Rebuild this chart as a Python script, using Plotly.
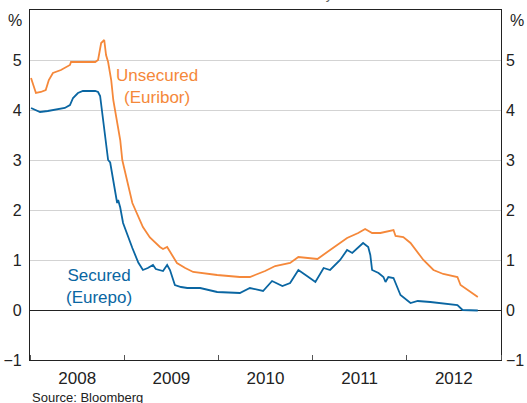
import plotly.graph_objects as go

# ---- data ----
euribor_dates = ["2008-01-05","2008-01-20","2008-01-24","2008-02-12","2008-03-02","2008-03-14","2008-03-30",
    "2008-04-30","2008-06-04","2008-06-08","2008-09-10","2008-09-21","2008-10-03","2008-10-15","2008-10-22",
    "2008-10-30","2008-11-11","2008-11-19","2008-11-27","2008-12-16","2008-12-24","2009-02-01","2009-03-14",
    "2009-04-10","2009-05-19","2009-05-31","2009-06-16","2009-06-27","2009-07-24","2009-08-25","2009-09-25",
    "2009-12-27","2010-03-25","2010-05-03","2010-07-01","2010-08-09","2010-10-06","2010-11-07","2011-01-20",
    "2011-03-10","2011-05-15","2011-06-27","2011-07-24","2011-08-20","2011-09-21","2011-11-11","2011-11-19",
    "2011-12-19","2012-01-16","2012-03-06","2012-04-14","2012-05-22","2012-07-16","2012-07-28","2012-09-06",
    "2012-10-03"]
euribor_values = [4.64,4.40,4.34,4.36,4.40,4.60,4.74,
    4.80,4.90,4.96,4.96,5.00,5.34,5.40,5.10,
    4.96,4.60,4.20,3.94,3.40,3.00,2.14,1.66,
    1.45,1.26,1.22,1.26,1.16,0.94,0.84,0.76,
    0.70,0.66,0.66,0.78,0.88,0.94,1.06,1.02,
    1.20,1.44,1.54,1.62,1.54,1.54,1.60,1.48,
    1.46,1.34,1.00,0.80,0.72,0.66,0.50,0.36,
    0.26]

eurepo_dates = ["2008-01-05","2008-01-20","2008-02-09","2008-03-10","2008-04-06","2008-05-15","2008-06-04",
    "2008-06-16","2008-07-05","2008-07-24","2008-09-10","2008-09-21","2008-09-29","2008-10-07","2008-10-18",
    "2008-10-30","2008-11-07","2008-11-23","2008-12-04","2008-12-08","2008-12-16","2008-12-27","2009-01-16",
    "2009-02-01","2009-02-24","2009-03-14","2009-04-02","2009-04-22","2009-05-03","2009-05-19","2009-05-31",
    "2009-06-16","2009-06-27","2009-07-16","2009-08-09","2009-09-02","2009-10-22","2009-12-27","2010-03-25",
    "2010-05-03","2010-06-23","2010-07-28","2010-09-06","2010-10-06","2010-11-07","2010-12-16","2011-01-12",
    "2011-02-13","2011-03-10","2011-04-18","2011-05-15","2011-06-04","2011-07-16","2011-08-05","2011-08-13",
    "2011-08-20","2011-09-14","2011-10-03","2011-10-11","2011-10-22","2011-11-11","2011-12-08","2012-01-16",
    "2012-02-13","2012-04-02","2012-07-16","2012-08-05","2012-10-03"]
eurepo_values = [4.04,4.00,3.96,3.98,4.00,4.04,4.10,
    4.24,4.34,4.38,4.38,4.36,4.28,3.94,3.40,
    3.00,2.95,2.50,2.14,2.20,2.05,1.74,1.45,
    1.24,0.95,0.80,0.84,0.90,0.82,0.80,0.78,
    0.90,0.80,0.50,0.46,0.44,0.44,0.36,0.34,
    0.44,0.38,0.58,0.48,0.54,0.80,0.66,0.56,
    0.84,0.80,1.00,1.20,1.14,1.34,1.26,1.10,
    0.80,0.74,0.66,0.56,0.66,0.64,0.30,0.14,
    0.18,0.16,0.10,0.00,-0.01]

y_ticks = [-1, 0, 1, 2, 3, 4, 5]
x_range = ["2008-01-01", "2013-01-01"]
y_range = [-1, 6]

ORANGE = "#F5883A"
BLUE = "#0A66A2"
FONT = "Arial, Liberation Sans, sans-serif"

fig = go.Figure()
fig.add_trace(go.Scatter(x=euribor_dates, y=euribor_values, mode="lines",
                         line=dict(color=ORANGE, width=1.8), showlegend=False, hoverinfo="skip"))
fig.add_trace(go.Scatter(x=eurepo_dates, y=eurepo_values, mode="lines",
                         line=dict(color=BLUE, width=1.8), showlegend=False, hoverinfo="skip"))
fig.add_trace(go.Scatter(x=[None], y=[None], yaxis="y2", showlegend=False, hoverinfo="skip"))

fig.update_layout(
    template="none",
    width=527, height=403,
    margin=dict(l=30, r=26, t=10, b=43, pad=0),
    paper_bgcolor="white", plot_bgcolor="white",
    font=dict(family=FONT, size=16, color="#222222"),
    xaxis=dict(type="date", range=x_range, dtick="M12", tick0="2008-01-01",
               ticklabelmode="period", tickformat="%Y", automargin=False,
               ticks="inside", ticklen=5, tickcolor="#555555", tickwidth=1,
               showgrid=False, showline=True, linecolor="#222222", linewidth=1.2,
               mirror=True, tickfont=dict(size=17), zeroline=False, ticklabelstandoff=2),
    yaxis=dict(range=y_range, tickvals=y_ticks, showgrid=True, gridcolor="#D3D3D3",
               gridwidth=1.2, zeroline=True, zerolinecolor="#222222", zerolinewidth=1.2,
               showline=True, linecolor="#222222", linewidth=1.2, mirror=True, automargin=False,
               ticks="", tickfont=dict(size=16), ticklabelstandoff=4),
    yaxis2=dict(range=y_range, tickvals=y_ticks, overlaying="y", side="right", automargin=False,
                showgrid=False, zeroline=False, showline=False, ticks="",
                tickfont=dict(size=16), ticklabelstandoff=4),
)

def px(xp):
    return (xp - 30) / 471

def py(yp):
    return (360 - yp) / 350

ann = [
    dict(text="Unsecured<br>(Euribor)", x=px(157), y=py(86), xanchor="center", yanchor="middle",
         font=dict(size=17, color=ORANGE)),
    dict(text="Secured<br>(Eurepo)", x=px(99), y=py(286), xanchor="center", yanchor="middle",
         font=dict(size=17, color=BLUE)),
    dict(text="%", x=px(15), y=py(20), xanchor="center", yanchor="middle",
         font=dict(size=16, color="#222222")),
    dict(text="%", x=px(517), y=py(20), xanchor="center", yanchor="middle",
         font=dict(size=16, color="#222222")),
    dict(text="Source: Bloomberg", x=0, y=py(397), xanchor="left", yanchor="middle",
         font=dict(size=13, color="#222222")),
    dict(text="Three-month maturity", x=0.5, y=1, xanchor="center", yanchor="bottom", yshift=6,
         font=dict(size=14, color="#666666")),
]
for a in ann:
    a.update(xref="paper", yref="paper", showarrow=False, align="center")
fig.update_layout(annotations=ann)

fig.write_html("out.html", config={"displayModeBar": False},
               post_script="document.body.style.margin='0';document.body.style.padding='0';")
